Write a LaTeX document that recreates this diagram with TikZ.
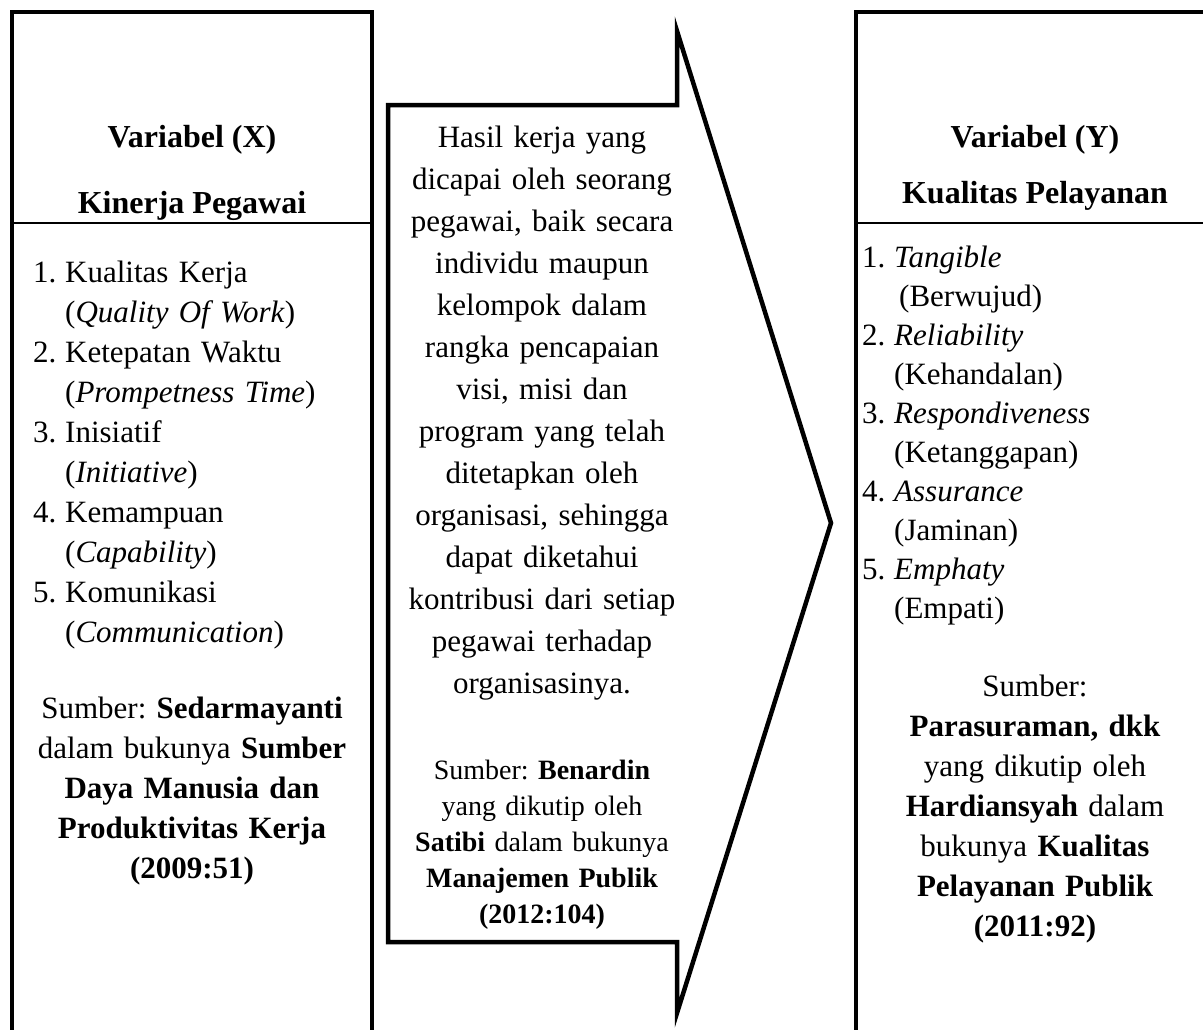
\documentclass[tikz,border=0pt]{standalone}
\usepackage{fontspec}
\setmainfont{Liberation Serif}
\frenchspacing
\begin{document}
\begin{tikzpicture}[x=1pt,y=-1pt,
  frame/.style={line width=4.5pt,line join=miter},
  divider/.style={line width=2pt},
  body/.style={inner sep=0pt,font=\fontsize{31}{40}\selectfont\frenchspacing},
  bodyright/.style={inner sep=0pt,font=\fontsize{31}{39}\selectfont\frenchspacing},
  bodywide/.style={inner sep=0pt,font=\fontsize{31}{42}\selectfont\frenchspacing},
  small/.style={inner sep=0pt,font=\fontsize{28}{36}\selectfont\frenchspacing},
  head/.style={inner sep=0pt,font=\fontsize{32}{40}\selectfont\bfseries}]
\useasboundingbox (0,0) rectangle (1203,1029);
\fill[white] (0,0) rectangle (1203,1029);
\begin{scope}
\clip (0,0) rectangle (1203,1029);
% left box
\draw[frame] (12,1045) -- (12,12) -- (372,12) -- (372,1045);
\draw[divider] (12,223) -- (372,223);
% right box
\draw[frame] (856,1045) -- (856,12) -- (1225,12);
\draw[divider] (856,223) -- (1225,223);
% arrow
\draw[frame] (388,105) -- (677,105) -- (677,31) -- (831,523) -- (677,1013) -- (677,942) -- (388,942) -- cycle;
\end{scope}

% left column
\node[head,anchor=base] (vx) at (192,147) {Variabel (X)};
\node[head,anchor=base] (kp) at (192,213) {Kinerja Pegawai};
\foreach \i in {1,...,5} \node[body,anchor=base west] (nx\i) at (33,{282+80*(\i-1)}) {\i.};
\node[body,anchor=base west,text width=300,align=left] (lx) at (65,282)
 {Kualitas Kerja\\(\textit{Quality Of Work})\\Ketepatan Waktu\\(\textit{Prompetness Time})\\Inisiatif\\(\textit{Initiative})\\Kemampuan\\(\textit{Capability})\\Komunikasi\\(\textit{Communication})};
\node[body,anchor=base,text width=350,align=center] (sx) at (192,718)
 {Sumber: \textbf{Sedarmayanti}\\dalam bukunya \textbf{Sumber}\\\textbf{Daya Manusia dan}\\\textbf{Produktivitas Kerja}\\\textbf{(2009:51)}};

% middle
\node[bodywide,anchor=base,text width=300,align=center] (mid) at (542,147)
 {Hasil kerja yang\\dicapai oleh seorang\\pegawai, baik secara\\individu maupun\\kelompok dalam\\rangka pencapaian\\visi, misi dan\\program yang telah\\ditetapkan oleh\\organisasi, sehingga\\dapat diketahui\\kontribusi dari setiap\\pegawai terhadap\\organisasinya.};
\node[small,anchor=base,text width=300,align=center] (sm) at (542,779)
 {Sumber: \textbf{Benardin}\\yang dikutip oleh\\\textbf{Satibi} dalam bukunya\\\textbf{Manajemen Publik}\\\textbf{(2012:104)}};

% right column
\node[head,anchor=base] (vy) at (1035,147) {Variabel (Y)};
\node[head,anchor=base] (kpy) at (1035,203) {Kualitas Pelayanan};
\foreach \i in {1,...,5} \node[bodyright,anchor=base west] (ny\i) at (862,{267+78*(\i-1)}) {\i.};
\node[bodyright,anchor=base west,text width=300,align=left] (ly) at (894,267)
 {\textit{Tangible}\\\hspace*{5pt}(Berwujud)\\\textit{Reliability}\\(Kehandalan)\\\textit{Respondiveness}\\(Ketanggapan)\\\textit{Assurance}\\(Jaminan)\\\textit{Emphaty}\\(Empati)};
\node[body,anchor=base,text width=340,align=center] (sy) at (1035,696)
 {Sumber:\\\textbf{Parasuraman, dkk}\\yang dikutip oleh\\\textbf{Hardiansyah} dalam\\bukunya \textbf{Kualitas}\\\textbf{Pelayanan Publik}\\\textbf{(2011:92)}};
\end{tikzpicture}
\end{document}
